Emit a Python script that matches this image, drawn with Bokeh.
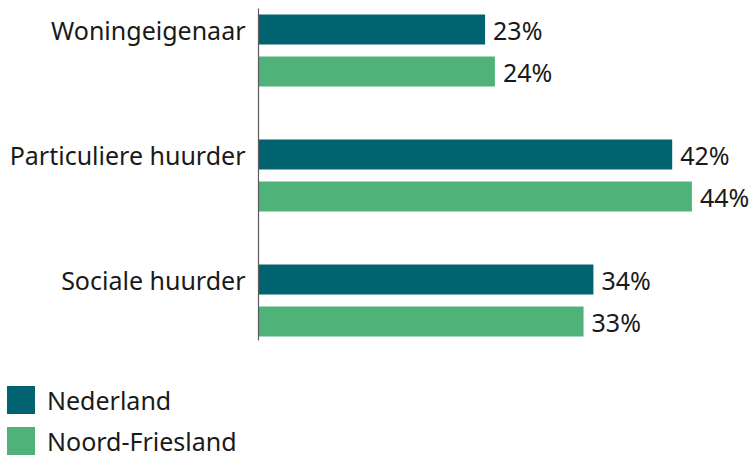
from bokeh.plotting import figure
from bokeh.models import ColumnDataSource, Range1d, Legend, LegendItem
from bokeh.transform import dodge
from bokeh.core.properties import value
from bokeh.embed import file_html
from bokeh.resources import INLINE

categories = ["Woningeigenaar", "Particuliere huurder", "Sociale huurder"]
nederland = [23, 42, 34]
noord_friesland = [24, 44, 33]
series = ["Nederland", "Noord-Friesland"]
colors = ["#00636F", "#4FB278"]

FONT = "Noto Sans"
TXT = "#1a1a1a"
FS = "25px"

pos = list(range(len(categories)))
src = ColumnDataSource(dict(
    pos=pos,
    cat=categories,
    zero=[0] * len(pos),
    ned=nederland,
    nf=noord_friesland,
    ned_lbl=[f"{v}%" for v in nederland],
    nf_lbl=[f"{v}%" for v in noord_friesland],
))

W, H = 756, 459
PX_X = 9.85    # px per percent
PX_Y = 125.0   # px per category step
X0 = 258       # px where 0% sits
Y0 = 29        # px where first category sits

p = figure(width=W, height=H, output_backend="svg", toolbar_location=None,
           x_range=Range1d(-X0 / PX_X, (W - X0) / PX_X),
           y_range=Range1d((H - Y0) / PX_Y, -Y0 / PX_Y),
           min_border=0)
p.outline_line_color = None
p.xgrid.visible = False
p.ygrid.visible = False
p.xaxis.visible = False
p.yaxis.visible = False
p.background_fill_color = "white"
p.border_fill_color = "white"

OFF = 0.336
BH = 0.24
r1 = p.hbar(y="pos", right="ned", left=0, height=BH, source=src,
            fill_color=colors[0], line_color=None)
r2 = p.hbar(y=dodge("pos", OFF), right="nf", left=0, height=BH, source=src,
            fill_color=colors[1], line_color=None)

# vertical axis line
p.segment(x0=[0], x1=[0], y0=[-21 / PX_Y], y1=[311 / PX_Y],
          line_color="#5a5a5a", line_width=1.2)

# category labels
p.text(x="zero", y="pos", text="cat", source=src, x_offset=-13,
       text_align="right", text_baseline="middle", text_font=value(FONT),
       text_font_size=FS, text_color=TXT)

p.text(x="ned", y="pos", text="ned_lbl", source=src, x_offset=8,
       text_baseline="middle", text_font=value(FONT), text_font_size=FS,
       text_color=TXT)
p.text(x="nf", y=dodge("pos", OFF), text="nf_lbl", source=src, x_offset=8,
       text_baseline="middle", text_font=value(FONT), text_font_size=FS,
       text_color=TXT)

legend = Legend(items=[LegendItem(label=series[0], renderers=[r1]),
                       LegendItem(label=series[1], renderers=[r2])],
                location=(3, 1), orientation="vertical",
                glyph_width=35, glyph_height=35, spacing=6,
                label_standoff=9, padding=0, margin=0,
                border_line_color=None, background_fill_alpha=0,
                label_text_font=FONT, label_text_font_size=FS,
                label_text_color=TXT, label_height=35)
p.add_layout(legend, "center")

open("out.html", "w").write(file_html(p, INLINE))
